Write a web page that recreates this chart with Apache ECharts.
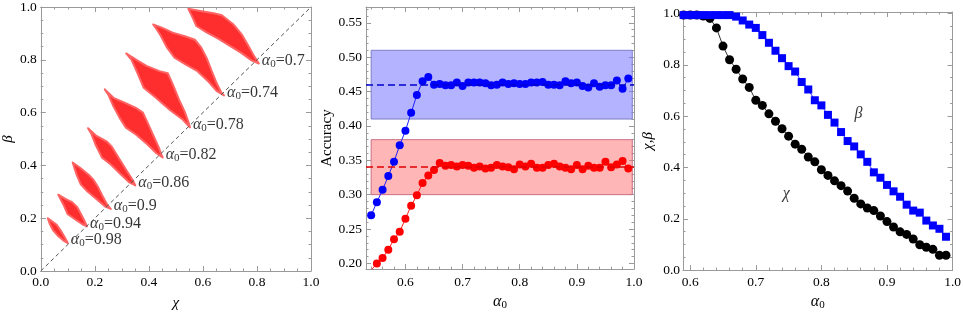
<!DOCTYPE html>
<html>
<head>
<meta charset="utf-8">
<script src="https://cdn.jsdelivr.net/npm/echarts@6/dist/echarts.min.js"></script>
<style>
html,body{margin:0;padding:0;background:#fff}
#main{width:964px;height:316px}
</style>
</head>
<body>
<div id="main"></div>
<script>
// ---- left panel: (chi, beta) regions, outline ----
const regionAlpha = ['0.7', '0.74', '0.78', '0.82', '0.86', '0.9', '0.94', '0.98'];
const region070 = [[0.546,0.993],[0.600,0.983],[0.640,0.976],[0.670,0.969],[0.712,0.935],[0.745,0.894],[0.768,0.853],[0.790,0.813],[0.807,0.786],[0.780,0.798],[0.742,0.826],[0.703,0.851],[0.655,0.881],[0.612,0.905],[0.576,0.928],[0.562,0.960]];
const region074 = [[0.416,0.934],[0.452,0.920],[0.488,0.903],[0.536,0.888],[0.570,0.876],[0.594,0.846],[0.614,0.806],[0.633,0.756],[0.651,0.711],[0.668,0.676],[0.678,0.665],[0.652,0.681],[0.618,0.720],[0.580,0.757],[0.534,0.784],[0.495,0.808],[0.466,0.848],[0.443,0.893],[0.430,0.914]];
const region078 = [[0.316,0.824],[0.354,0.800],[0.391,0.777],[0.439,0.757],[0.470,0.749],[0.490,0.703],[0.512,0.648],[0.533,0.603],[0.547,0.562],[0.552,0.544],[0.526,0.573],[0.478,0.610],[0.425,0.657],[0.381,0.694],[0.360,0.745],[0.336,0.800]];
const region082 = [[0.237,0.688],[0.269,0.656],[0.310,0.638],[0.352,0.618],[0.378,0.600],[0.396,0.560],[0.416,0.515],[0.435,0.472],[0.446,0.442],[0.451,0.430],[0.428,0.446],[0.392,0.482],[0.352,0.517],[0.315,0.543],[0.292,0.580],[0.267,0.628],[0.250,0.668]];
const region086 = [[0.175,0.541],[0.203,0.514],[0.245,0.490],[0.263,0.471],[0.288,0.429],[0.318,0.380],[0.340,0.345],[0.350,0.324],[0.326,0.337],[0.294,0.368],[0.257,0.405],[0.227,0.429],[0.203,0.478],[0.187,0.520]];
const region090 = [[0.118,0.411],[0.148,0.389],[0.178,0.364],[0.196,0.344],[0.213,0.316],[0.231,0.279],[0.247,0.249],[0.259,0.235],[0.237,0.245],[0.208,0.271],[0.172,0.302],[0.148,0.328],[0.133,0.364],[0.123,0.395]];
const region094 = [[0.065,0.289],[0.091,0.273],[0.116,0.261],[0.134,0.243],[0.148,0.217],[0.160,0.193],[0.171,0.169],[0.154,0.177],[0.124,0.198],[0.099,0.216],[0.086,0.247],[0.073,0.273]];
const region098 = [[0.026,0.200],[0.043,0.187],[0.059,0.175],[0.075,0.151],[0.088,0.129],[0.100,0.106],[0.086,0.114],[0.063,0.134],[0.045,0.155],[0.033,0.179]];
const regions = [region070, region074, region078, region082, region086, region090, region094, region098];
const diagonal = [[0, 0], [1, 1]];

// ---- middle panel: accuracy vs alpha0 ----
const alphaAcc = [0.54,0.55,0.56,0.57,0.58,0.59,0.60,0.61,0.62,0.63,0.64,0.65,0.66,0.67,0.68,0.69,0.70,0.71,0.72,0.73,0.74,0.75,0.76,0.77,0.78,0.79,0.80,0.81,0.82,0.83,0.84,0.85,0.86,0.87,0.88,0.89,0.90,0.91,0.92,0.93,0.94,0.95,0.96,0.97,0.98,0.99];
const accBlue = [0.270,0.289,0.307,0.327,0.348,0.372,0.393,0.419,0.445,0.465,0.471,0.460,0.461,0.459,0.459,0.463,0.458,0.463,0.463,0.463,0.462,0.459,0.460,0.463,0.461,0.462,0.461,0.461,0.463,0.463,0.464,0.460,0.460,0.459,0.465,0.462,0.463,0.458,0.456,0.462,0.457,0.459,0.459,0.466,0.454,0.469];
const accRed = [0.190,0.200,0.208,0.220,0.235,0.246,0.265,0.284,0.299,0.317,0.328,0.336,0.346,0.342,0.343,0.341,0.343,0.342,0.339,0.341,0.338,0.339,0.343,0.341,0.340,0.337,0.344,0.341,0.345,0.339,0.339,0.343,0.345,0.341,0.339,0.337,0.343,0.337,0.342,0.339,0.339,0.348,0.340,0.344,0.349,0.338];
const blueBand = [0.41, 0.51];
const redBand = [0.30, 0.38];
const bandAlpha = [0.54, 0.997];
const blueLevel = 0.46;
const redLevel = 0.34;

// ---- right panel: chi and beta vs alpha0 ----
const alphaCB = [0.59,0.60,0.61,0.62,0.63,0.64,0.65,0.66,0.67,0.68,0.69,0.70,0.71,0.72,0.73,0.74,0.75,0.76,0.77,0.78,0.79,0.80,0.81,0.82,0.83,0.84,0.85,0.86,0.87,0.88,0.89,0.90,0.91,0.92,0.93,0.94,0.95,0.96,0.97,0.98,0.99];
const chiVals = [0.994,0.994,0.994,0.990,0.981,0.944,0.873,0.820,0.783,0.745,0.712,0.662,0.642,0.609,0.580,0.551,0.522,0.491,0.471,0.441,0.422,0.391,0.369,0.348,0.329,0.308,0.280,0.258,0.242,0.232,0.211,0.189,0.168,0.149,0.139,0.121,0.099,0.089,0.081,0.058,0.058];
const betaVals = [0.994,0.994,0.994,0.994,0.994,0.994,0.994,0.994,0.988,0.973,0.957,0.944,0.916,0.886,0.855,0.826,0.795,0.774,0.733,0.704,0.662,0.642,0.605,0.575,0.538,0.503,0.482,0.451,0.422,0.381,0.360,0.332,0.307,0.286,0.255,0.232,0.224,0.193,0.174,0.161,0.130];
const curveNames = [['β', 0.8565, 0.609], ['χ', 0.7465, 0.298]];

// ---- tick labels ----
const ticksUnit = ['0.0', '0.2', '0.4', '0.6', '0.8', '1.0'];
const ticksAlpha = ['0.6', '0.7', '0.8', '0.9', '1.0'];
const ticksAcc = ['0.20', '0.25', '0.30', '0.35', '0.40', '0.45', '0.50', '0.55'];

const serif = 'Liberation Serif';
const frameColor = '#9a9a9a';
const alphaRich = {
  a: {fontFamily: serif, fontStyle: 'italic', fontSize: 16, color: '#000'},
  s: {fontFamily: serif, fontSize: 11, color: '#000', padding: [7, 0, 0, 0]},
  t: {fontFamily: serif, fontSize: 16, color: '#000'}
};

function frameAxes(grid, min, max, labels, minorStep, isY, nameOpt, labelMargin) {
  const major = labels.map(Number);
  const minor = [];
  for (let k = Math.ceil(min / minorStep - 1e-6); k * minorStep <= max + 1e-9; k++) {
    minor.push(+(k * minorStep).toFixed(4));
  }
  const ls = {color: frameColor, width: 1};
  const base = {gridIndex: grid, type: 'value', min: min, max: max, splitLine: {show: false}};
  const pos = isY ? ['left', 'right'] : ['bottom', 'top'];
  const fmt = v => {
    const i = major.findIndex(m => Math.abs(m - v) < 1e-9);
    return i >= 0 ? labels[i] : '';
  };
  return [
    Object.assign({}, base, nameOpt, {
      position: pos[0],
      axisLine: {show: true, onZero: false, lineStyle: ls},
      axisTick: {show: true, inside: true, length: 5, customValues: major, lineStyle: ls},
      axisLabel: {show: true, customValues: major, formatter: fmt, margin: labelMargin,
        fontFamily: serif, fontSize: 13.5, color: '#000', showMinLabel: true, showMaxLabel: true, hideOverlap: false}
    }),
    Object.assign({}, base, {
      position: pos[0],
      axisLine: {show: false, onZero: false},
      axisTick: {show: true, inside: true, length: 2.5, customValues: minor, lineStyle: ls},
      axisLabel: {show: false}
    }),
    Object.assign({}, base, {
      position: pos[1],
      axisLine: {show: true, onZero: false, lineStyle: ls},
      axisTick: {show: true, inside: true, length: 5, customValues: major, lineStyle: ls},
      axisLabel: {show: false}
    }),
    Object.assign({}, base, {
      position: pos[1],
      axisLine: {show: false, onZero: false},
      axisTick: {show: true, inside: true, length: 2.5, customValues: minor, lineStyle: ls},
      axisLabel: {show: false}
    })
  ];
}

function axisName(text, gap, italic, rich) {
  return {
    name: text, nameLocation: 'middle', nameGap: gap,
    nameTextStyle: {fontFamily: serif, fontSize: 15, color: '#000', fontStyle: italic ? 'italic' : 'normal', rich: rich}
  };
}

const xAxes = [].concat(
  frameAxes(0, 0, 1, ticksUnit, 0.05, false, axisName('χ', 25, true), 4),
  frameAxes(1, 0.531, 1.0, ticksAlpha, 0.02, false, axisName('{a|α}{s|0}', 21, false, alphaRich), 6),
  frameAxes(2, 0.589, 1.0, ticksAlpha, 0.02, false, axisName('{a|α}{s|0}', 18, false, alphaRich), 5)
);
const yAxes = [].concat(
  frameAxes(0, 0, 1, ticksUnit, 0.05, true, axisName('β', 12, true), 4),
  frameAxes(1, 0.1917, 0.573, ticksAcc, 0.01, true, axisName('Accuracy', 27, false), 4),
  frameAxes(2, 0, 1.006, ticksUnit, 0.05, true, axisName('χ,β', 27, true), 3)
);

function tipOf(r) {
  return r.reduce((best, p) => (p[0] > best[0] ? p : best), r[0]);
}

const option = {
  animation: false,
  backgroundColor: '#fff',
  textStyle: {fontFamily: serif},
  grid: [
    {left: 36, top: 7, width: 275, height: 274},
    {left: 366, top: 7, width: 268, height: 276},
    {left: 683, top: 12, width: 276, height: 270}
  ],
  xAxis: xAxes,
  yAxis: yAxes,
  series: [
    {
      type: 'custom', xAxisIndex: 0, yAxisIndex: 0,
      data: regions.map((r, i) => i),
      clip: true,
      renderItem: function (params, api) {
        const pts = regions[params.dataIndex].map(p => api.coord(p));
        return {type: 'polygon', shape: {points: pts},
          style: {fill: '#ff2e2e', stroke: '#ff6464', lineWidth: 2, lineJoin: 'round'}};
      }
    },
    {
      type: 'line', xAxisIndex: 0, yAxisIndex: 0, data: diagonal,
      showSymbol: false, lineStyle: {color: '#555', width: 1, type: [4, 3]}
    },
    {
      type: 'scatter', xAxisIndex: 0, yAxisIndex: 0, symbolSize: 0,
      data: regions.map((r, i) => ({value: tipOf(r), name: regionAlpha[i]})),
      label: {
        show: true, position: 'right', distance: 3, offset: [0, -3],
        formatter: p => '{a|α}{s|0}{t|=' + p.name + '}', rich: alphaRich
      }
    },
    {
      type: 'line', xAxisIndex: 4, yAxisIndex: 4, z: 2,
      data: alphaAcc.map((a, i) => [a, accRed[i]]),
      symbol: 'circle', symbolSize: 8, showAllSymbol: true,
      itemStyle: {color: '#ff0000'}, lineStyle: {color: '#ff2020', width: 1},
      markArea: {
        silent: true,
        itemStyle: {color: 'rgba(255,110,110,0.5)', borderColor: '#cc6f85', borderWidth: 1},
        data: [[{xAxis: bandAlpha[0], yAxis: redBand[0]}, {xAxis: bandAlpha[1], yAxis: redBand[1]}]]
      },
      markLine: {
        silent: true, symbol: 'none', label: {show: false},
        lineStyle: {color: '#e00000', width: 1.6, type: [7, 4]},
        data: [{yAxis: redLevel}]
      }
    },
    {
      type: 'line', xAxisIndex: 4, yAxisIndex: 4, z: 3,
      data: alphaAcc.map((a, i) => [a, accBlue[i]]),
      symbol: 'circle', symbolSize: 8, showAllSymbol: true,
      itemStyle: {color: '#0000ff'}, lineStyle: {color: '#2020ff', width: 1},
      markArea: {
        silent: true,
        itemStyle: {color: 'rgba(110,110,255,0.52)', borderColor: '#7f7fc6', borderWidth: 1},
        data: [[{xAxis: bandAlpha[0], yAxis: blueBand[0]}, {xAxis: bandAlpha[1], yAxis: blueBand[1]}]]
      },
      markLine: {
        silent: true, symbol: 'none', label: {show: false},
        lineStyle: {color: '#0000d0', width: 1.6, type: [7, 4]},
        data: [{yAxis: blueLevel}]
      }
    },
    {
      type: 'line', xAxisIndex: 8, yAxisIndex: 8,
      data: alphaCB.map((a, i) => [a, chiVals[i]]),
      symbol: 'circle', symbolSize: 9, showAllSymbol: true,
      itemStyle: {color: '#000'}, lineStyle: {color: '#333', width: 1}
    },
    {
      type: 'line', xAxisIndex: 8, yAxisIndex: 8,
      data: alphaCB.map((a, i) => [a, betaVals[i]]),
      symbol: 'rect', symbolSize: 8, showAllSymbol: true,
      itemStyle: {color: '#0000ff'}, lineStyle: {color: '#3030ff', width: 1}
    },
    {
      type: 'scatter', xAxisIndex: 8, yAxisIndex: 8, symbolSize: 0,
      data: curveNames.map(c => ({value: [c[1], c[2]], name: c[0]})),
      label: {show: true, position: 'inside', formatter: p => p.name,
        fontFamily: serif, fontStyle: 'italic', fontSize: 16, color: '#000'}
    }
  ]
};

const chart = echarts.init(document.getElementById('main'));
chart.setOption(option);
window.addEventListener('resize', function () {
  chart.resize();
}, false);
</script>
</body>
</html>
